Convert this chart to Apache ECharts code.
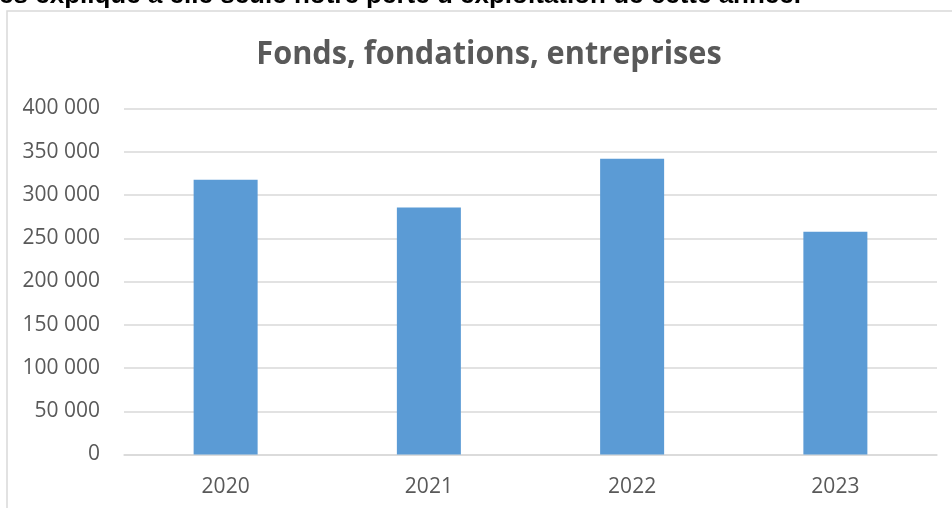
<!DOCTYPE html>
<html>
<head>
<meta charset="utf-8">
<script src="https://cdn.jsdelivr.net/npm/echarts@6/dist/echarts.min.js"></script>
<style>
html,body{margin:0;padding:0;background:#fff;}
#c{width:952px;height:508px;}
</style>
</head>
<body>
<div id="c"></div>
<script>
var categories = ['2020', '2021', '2022', '2023'];
var values = [317500, 285500, 342000, 257500];
var yTicks = [0, 50000, 100000, 150000, 200000, 250000, 300000, 350000, 400000];
var titleText = 'Fonds, fondations, entreprises';
var topText = 'es explique à elle seule notre perte d\u2019exploitation de cette année.';

function fmt(v) {
  return String(v).replace(/\B(?=(\d{3})+(?!\d))/g, ' ');
}

var chart = echarts.init(document.getElementById('c'));
chart.setOption({
  animation: false,
  backgroundColor: '#ffffff',
  graphic: [
    {
      type: 'rect',
      shape: { x: 7, y: 11, width: 1000, height: 600 },
      style: { fill: 'none', stroke: '#d9d9d9', lineWidth: 1.5 },
      silent: true
    },
    {
      type: 'text',
      x: 801, y: 9,
      style: {
        text: topText,
        fill: '#000000',
        font: 'bold 26px "Liberation Sans", Arial, sans-serif',
        align: 'right',
        verticalAlign: 'bottom'
      },
      silent: true
    },
    {
      type: 'text',
      x: 489, y: 55,
      scaleX: 0.93,
      style: {
        text: titleText,
        fill: '#595959',
        font: 'bold 33px "Open Sans", sans-serif',
        align: 'center',
        verticalAlign: 'middle'
      },
      silent: true
    }
  ],
  grid: { left: 124, right: 15, top: 108.5, bottom: 53.5, containLabel: false },
  xAxis: {
    type: 'category',
    data: categories,
    axisLine: { lineStyle: { color: '#d9d9d9', width: 1.5 } },
    axisTick: { show: false },
    axisLabel: { color: '#595959', fontFamily: 'Open Sans', fontSize: 21, margin: 22 }
  },
  yAxis: {
    type: 'value',
    min: yTicks[0],
    max: yTicks[yTicks.length - 1],
    interval: yTicks[1] - yTicks[0],
    axisLine: { show: false },
    axisTick: { show: false },
    splitLine: { lineStyle: { color: '#d9d9d9', width: 1.5 } },
    axisLabel: { color: '#595959', fontFamily: 'Open Sans', fontSize: 21, margin: 24, formatter: fmt }
  },
  series: [{
    type: 'bar',
    data: values,
    barWidth: 64,
    itemStyle: { color: '#5b9bd5' }
  }]
});
</script>
</body>
</html>
